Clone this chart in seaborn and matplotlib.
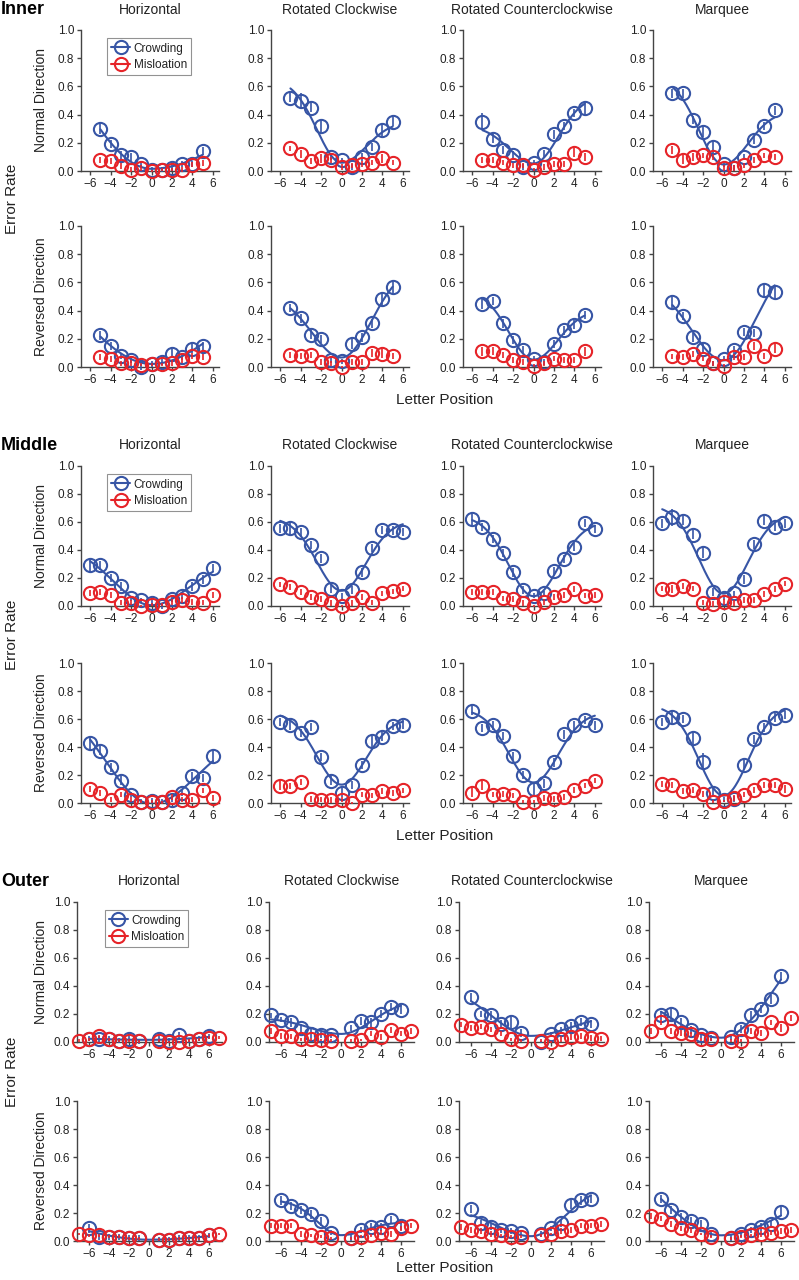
import numpy as np
import matplotlib
matplotlib.use("Agg")
import matplotlib.pyplot as plt
from matplotlib.lines import Line2D
import seaborn as sns

nan = np.nan

conditions = ["Horizontal", "Rotated Clockwise", "Rotated Counterclockwise", "Marquee"]

inner_pos = [-5, -4, -3, -2, -1, 0, 1, 2, 3, 4, 5]
middle_pos = [-6, -5, -4, -3, -2, -1, 0, 1, 2, 3, 4, 5, 6]
outer_pos = [-7, -6, -5, -4, -3, -2, -1, 1, 2, 3, 4, 5, 6, 7]

# ---------- Inner ----------
inner_normal_crowd = [
    [.30, .19, .11, .10, .05, .01, .01, .02, .05, .05, .14],
    [.52, .50, .45, .32, .10, .075, .03, .10, .17, .29, .35],
    [.35, .23, .15, .11, .03, .06, .12, .26, .32, .41, .45],
    [.55, .55, .36, .28, .17, .05, .02, .10, .22, .32, .43],
]
inner_normal_crowd_err = [
    [.04, .03, .03, .03, .02, .02, .02, .02, .02, .02, .03],
    [.03, .05, .03, .04, .02, .02, .02, .03, .03, .04, .03],
    [.06, .03, .03, .03, .02, .02, .03, .03, .03, .03, .05],
    [.03, .03, .03, .04, .04, .02, .02, .02, .03, .03, .03],
]
inner_normal_mis = [
    [.08, .07, .035, .01, .02, .00, .01, .01, .01, .045, .055],
    [.16, .12, .07, .09, .08, .03, .04, .05, .06, .09, .06],
    [.08, .08, .06, .04, .04, .01, .03, .05, .05, .13, .10],
    [.15, .08, .10, .11, .10, .02, .02, .04, .08, .11, .10],
]
inner_normal_mis_err = [
    [.02, .02, .02, .02, .02, .01, .01, .01, .02, .02, .02],
    [.02, .03, .02, .03, .02, .02, .02, .02, .02, .03, .02],
    [.02, .02, .02, .02, .02, .01, .02, .02, .02, .03, .03],
    [.03, .03, .03, .02, .02, .02, .02, .02, .02, .02, .02],
]
inner_rev_crowd = [
    [.225, .15, .08, .05, .00, .02, .035, .095, .07, .13, .15],
    [.42, .345, .23, .20, .05, .04, .165, .21, .31, .48, .565],
    [.45, .47, .31, .19, .12, .06, .035, .165, .26, .30, .37],
    [.46, .36, .21, .13, .025, .06, .12, .25, .24, .545, .535],
]
inner_rev_crowd_err = [
    [.03, .03, .02, .02, .02, .02, .02, .03, .02, .03, .03],
    [.03, .03, .03, .03, .02, .02, .04, .03, .03, .05, .04],
    [.04, .03, .03, .03, .03, .02, .02, .03, .03, .03, .03],
    [.04, .03, .03, .03, .02, .02, .03, .03, .03, .05, .05],
]
inner_rev_mis = [
    [.07, .055, .025, .03, .015, .02, .02, .03, .05, .08, .07],
    [.085, .08, .085, .035, .025, .00, .035, .035, .10, .095, .08],
    [.11, .115, .085, .05, .035, .01, .025, .06, .05, .05, .11],
    [.075, .07, .09, .06, .025, .01, .07, .07, .15, .08, .13],
]
inner_rev_mis_err = [
    [.02, .02, .02, .02, .01, .01, .01, .02, .02, .02, .02],
    [.02, .02, .02, .02, .02, .01, .02, .02, .03, .03, .02],
    [.03, .03, .02, .02, .02, .01, .02, .02, .02, .02, .03],
    [.02, .02, .02, .02, .02, .01, .02, .02, .03, .02, .03],
]

# ---------- Middle ----------
middle_normal_crowd = [
    [.29, .29, .20, .14, .055, .04, .02, .00, .05, .07, .14, .19, .27],
    [.555, .555, .53, .435, .34, .125, .07, .115, .24, .415, .545, .54, .53],
    [.62, .565, .48, .38, .24, .115, .075, .09, .25, .335, .42, .595, .55],
    [.59, .635, .61, .51, .38, .10, .06, .09, .19, .44, .61, .565, .59],
]
middle_normal_crowd_err = [
    [.05, .03, .03, .03, .02, .02, .02, .02, .02, .02, .03, .03, .03],
    [.03, .05, .03, .03, .03, .03, .02, .03, .03, .03, .03, .03, .03],
    [.04, .03, .03, .03, .03, .03, .02, .02, .03, .03, .03, .03, .03],
    [.03, .06, .03, .03, .04, .03, .02, .02, .03, .03, .03, .03, .03],
]
middle_normal_mis = [
    [.095, .10, .08, .025, .025, .00, .01, .01, .03, .045, .03, .025, .08],
    [.155, .135, .10, .065, .05, .02, .00, .02, .065, .025, .09, .105, .125],
    [.10, .10, .10, .055, .05, .02, .00, .03, .065, .08, .12, .075, .08],
    [.125, .12, .145, .125, .025, .015, .03, .02, .045, .045, .085, .12, .16],
]
middle_normal_mis_err = [
    [.02, .02, .02, .02, .02, .01, .01, .01, .02, .02, .02, .02, .02],
    [.02, .02, .02, .02, .02, .02, .01, .02, .02, .02, .02, .02, .02],
    [.02, .02, .02, .02, .02, .02, .01, .02, .02, .02, .02, .02, .02],
    [.02, .03, .02, .02, .02, .02, .02, .02, .02, .02, .02, .02, .02],
]
middle_rev_crowd = [
    [.43, .375, .255, .16, .06, .01, .015, .01, .025, .07, .195, .18, .335],
    [.58, .555, .50, .545, .33, .16, .075, .13, .27, .44, .475, .55, .56],
    [.66, .535, .555, .48, .335, .20, .10, .14, .29, .49, .555, .595, .555],
    [.58, .615, .60, .465, .295, .075, .025, .03, .275, .455, .54, .61, .63],
]
middle_rev_crowd_err = [
    [.05, .03, .03, .03, .02, .02, .02, .02, .02, .02, .03, .03, .05],
    [.03, .03, .03, .03, .03, .03, .03, .03, .03, .04, .03, .03, .03],
    [.03, .03, .03, .03, .03, .03, .04, .03, .03, .03, .03, .03, .03],
    [.03, .04, .03, .04, .06, .03, .02, .02, .03, .03, .03, .03, .03],
]
middle_rev_mis = [
    [.10, .07, .025, .06, .025, .01, .01, .005, .045, .025, .025, .09, .035],
    [.125, .12, .15, .03, .025, .02, .025, .00, .06, .055, .085, .07, .09],
    [.075, .125, .06, .065, .055, .01, .01, .035, .03, .045, .095, .125, .16],
    [.135, .13, .085, .095, .065, .01, .015, .035, .06, .095, .13, .13, .10],
]
middle_rev_mis_err = [
    [.02, .02, .02, .02, .02, .01, .01, .01, .02, .02, .02, .02, .02],
    [.03, .02, .02, .02, .02, .02, .02, .01, .02, .02, .02, .02, .02],
    [.03, .03, .02, .02, .02, .01, .01, .02, .02, .02, .02, .02, .02],
    [.02, .02, .02, .02, .02, .01, .01, .02, .02, .02, .02, .02, .03],
]

# ---------- Outer ----------
outer_normal_crowd = [
    [nan, .025, .02, .02, .01, .025, .005, .02, .01, .05, .01, .025, .04, nan],
    [.19, .16, .14, .10, .06, .05, .05, .10, .15, .14, .20, .25, .23, nan],
    [nan, .32, .20, .19, .13, .14, .065, .00, .055, .09, .115, .145, .13, nan],
    [nan, .19, .20, .14, .085, .05, .03, .035, .095, .19, .235, .305, .47, nan],
]
outer_normal_crowd_err = [
    [nan, .02, .02, .02, .02, .02, .02, .02, .02, .02, .02, .02, .02, nan],
    [.02, .02, .03, .03, .03, .02, .02, .02, .03, .03, .03, .03, .03, nan],
    [nan, .03, .02, .03, .03, .04, .03, .01, .02, .02, .03, .03, .03, nan],
    [nan, .03, .04, .03, .03, .02, .02, .02, .03, .03, .03, .03, .03, nan],
]
outer_normal_mis = [
    [.01, .02, .04, .02, .01, .01, .005, .01, .00, .00, .01, .02, .03, .03],
    [.08, .045, .04, .02, .02, .015, .01, .01, .015, .06, .035, .085, .06, .08],
    [.125, .10, .11, .09, .06, .02, .01, .01, .00, .02, .035, .045, .03, .025],
    [.08, .14, .08, .065, .055, .02, .02, .01, .01, .08, .065, .14, .10, .17],
]
outer_normal_mis_err = [
    [.01, .01, .01, .01, .01, .01, .01, .01, .01, .01, .01, .01, .01, .01],
    [.02, .02, .02, .01, .01, .01, .01, .01, .01, .02, .02, .02, .02, .02],
    [.02, .02, .02, .02, .02, .01, .01, .01, .01, .02, .02, .02, .02, .02],
    [.02, .02, .02, .02, .02, .01, .01, .01, .01, .02, .02, .02, .03, .02],
]
outer_rev_crowd = [
    [nan, .09, .03, .03, .03, .02, .02, .01, .01, .02, .02, .02, .04, nan],
    [nan, .29, .25, .22, .19, .14, .06, .02, .08, .10, .10, .15, .11, nan],
    [nan, .23, .13, .10, .08, .07, .06, .05, .09, .13, .26, .29, .30, nan],
    [nan, .30, .22, .17, .14, .12, .05, .02, .05, .08, .10, .12, .21, nan],
]
outer_rev_crowd_err = [
    [nan, .03, .02, .02, .02, .02, .02, .02, .02, .02, .02, .02, .02, nan],
    [nan, .03, .03, .03, .03, .03, .02, .02, .02, .03, .03, .03, .03, nan],
    [nan, .03, .02, .02, .02, .02, .02, .02, .02, .03, .03, .03, .03, nan],
    [nan, .03, .03, .03, .03, .03, .02, .02, .02, .02, .03, .03, .03, nan],
]
outer_rev_mis = [
    [.05, .04, .04, .03, .03, .02, .02, .01, .01, .02, .02, .02, .04, .05],
    [.11, .11, .11, .05, .04, .03, .02, .02, .03, .04, .06, .05, .09, .11],
    [.10, .08, .07, .05, .04, .03, .03, .04, .05, .07, .08, .11, .11, .12],
    [.18, .16, .12, .09, .08, .05, .03, .02, .03, .04, .05, .06, .07, .08],
]
outer_rev_mis_err = [
    [.01, .01, .01, .01, .01, .01, .01, .01, .01, .01, .01, .01, .01, .01],
    [.02, .02, .02, .02, .01, .01, .01, .01, .01, .01, .02, .02, .02, .02],
    [.02, .02, .02, .02, .01, .01, .01, .01, .01, .02, .02, .02, .02, .02],
    [.02, .02, .02, .02, .02, .01, .01, .01, .01, .01, .02, .02, .02, .02],
]

BLUE = "#3755a5"
RED = "#e62328"
TXT = "#222222"

sns.set_theme(style="ticks")
plt.rcParams["font.family"] = ["Liberation Sans", "DejaVu Sans"]

W, H = 799, 1280
fig = plt.figure(figsize=(W / 100, H / 100), dpi=100)


def px_axes(left, top, width, height):
    return fig.add_axes([left / W, 1 - (top + height) / H, width / W, height / H])


def fit_curve(x, y):
    """Least-squares fit of an inverted gaussian with separate side amplitudes."""
    x = np.asarray(x, dtype=float)
    y = np.asarray(y, dtype=float)
    keep = ~np.isnan(y)
    x, y = x[keep], y[keep]
    best = None
    for s in np.linspace(2.4, 8.0, 113):
        g = 1.0 - np.exp(-x ** 2 / (2 * s ** 2))
        A = np.column_stack([np.ones_like(x), g * (x < 0), g * (x >= 0)])
        coef = np.linalg.lstsq(A, y, rcond=None)[0]
        sse = np.sum((A @ coef - y) ** 2)
        if best is None or sse < best[0]:
            best = (sse, s, coef)
    _, s, (b, al, ar) = best
    xs = np.linspace(x.min(), x.max(), 200)
    g = 1.0 - np.exp(-xs ** 2 / (2 * s ** 2))
    return xs, b + np.where(xs < 0, al, ar) * g


def draw_panel(ax, pos, crowd, crowd_err, mis, mis_err, xlim):
    xs, ys = fit_curve(pos, crowd)
    sns.lineplot(x=xs, y=ys, ax=ax, color=BLUE, linewidth=1.5, zorder=2)
    for vals, errs, c, z in [(crowd, crowd_err, BLUE, 3), (mis, mis_err, RED, 4)]:
        ax.errorbar(pos, vals, yerr=errs, fmt="o", ms=9.5, mfc="none", mec=c, mew=1.5,
                    ecolor=c, elinewidth=1.2, capsize=0, clip_on=False, zorder=z)
    ax.set_xlim(*xlim)
    ax.set_ylim(0, 1)
    ax.set_xticks([-6, -4, -2, 0, 2, 4, 6])
    ax.set_xticklabels(["\u22126", "\u22124", "\u22122", "0", "2", "4", "6"])
    ax.set_yticks([0, 0.2, 0.4, 0.6, 0.8, 1.0])
    ax.set_yticklabels(["0.0", "0.2", "0.4", "0.6", "0.8", "1.0"])
    ax.tick_params(direction="out", length=3, width=1, labelsize=8.5, colors="#444444",
                   labelcolor=TXT, pad=2)
    ax.set_xlabel("")
    ax.set_ylabel("")
    for side in ["top", "right"]:
        ax.spines[side].set_visible(False)
    for side in ["left", "bottom"]:
        ax.spines[side].set_color("#444444")
        ax.spines[side].set_linewidth(1)
    ax.set_facecolor("none")


sections = [
    ("Inner", inner_pos, (-6.9, 6.6), [81, 271, 463, 653], 138, [30, 226], 141, 10, 400,
     [(inner_normal_crowd, inner_normal_crowd_err, inner_normal_mis, inner_normal_mis_err),
      (inner_rev_crowd, inner_rev_crowd_err, inner_rev_mis, inner_rev_mis_err)]),
    ("Middle", middle_pos, (-6.9, 6.6), [81, 271, 463, 653], 138, [466, 663], 140, 445, 836,
     [(middle_normal_crowd, middle_normal_crowd_err, middle_normal_mis, middle_normal_mis_err),
      (middle_rev_crowd, middle_rev_crowd_err, middle_rev_mis, middle_rev_mis_err)]),
    ("Outer", outer_pos, (-7.2, 7.3), [77, 269, 459, 649], 145, [902, 1101], 140, 881, 1268,
     [(outer_normal_crowd, outer_normal_crowd_err, outer_normal_mis, outer_normal_mis_err),
      (outer_rev_crowd, outer_rev_crowd_err, outer_rev_mis, outer_rev_mis_err)]),
]
row_names = ["Normal Direction", "Reversed Direction"]

for name, pos, xlim, lefts, width, tops, height, title_y, xlabel_y, rows in sections:
    fig.text(1 / W, 1 - title_y / H, name, fontsize=13, fontweight="bold", color="black",
             ha="left", va="center")
    for c, cond in enumerate(conditions):
        fig.text((lefts[c] + width / 2) / W, 1 - title_y / H, cond, fontsize=10, color=TXT,
                 ha="center", va="center")
    for r, (crowd, crowd_err, mis, mis_err) in enumerate(rows):
        fig.text(41 / W, 1 - (tops[r] + height / 2) / H, row_names[r], fontsize=10, color=TXT,
                 rotation=90, ha="center", va="center")
        for c in range(4):
            ax = px_axes(lefts[c], tops[r], width, height)
            draw_panel(ax, pos, crowd[c], crowd_err[c], mis[c], mis_err[c], xlim)
            if r == 0 and c == 0:
                handles = [
                    Line2D([], [], color=BLUE, marker="o", ms=9.5, mfc="none", mew=1.5, lw=1.5),
                    Line2D([], [], color=RED, marker="o", ms=9.5, mfc="none", mew=1.5, lw=1.5),
                ]
                leg = ax.legend(handles, ["Crowding", "Misloation"], loc="upper left",
                                bbox_to_anchor=(0.19, 0.94), borderaxespad=0, fontsize=8.5,
                                frameon=True, fancybox=False, handlelength=1.6,
                                handletextpad=0.3, labelspacing=0.35, borderpad=0.35)
                leg.get_frame().set_edgecolor("#777777")
                leg.get_frame().set_linewidth(0.8)
                for t in leg.get_texts():
                    t.set_color(TXT)
    mid_y = (tops[0] + tops[1] + height) / 2
    fig.text(12 / W, 1 - mid_y / H, "Error Rate", fontsize=11, color=TXT, rotation=90,
             ha="center", va="center")
    fig.text(445 / W, 1 - xlabel_y / H, "Letter Position", fontsize=11, color=TXT,
             ha="center", va="center")

fig.savefig("out.png", dpi=100)
